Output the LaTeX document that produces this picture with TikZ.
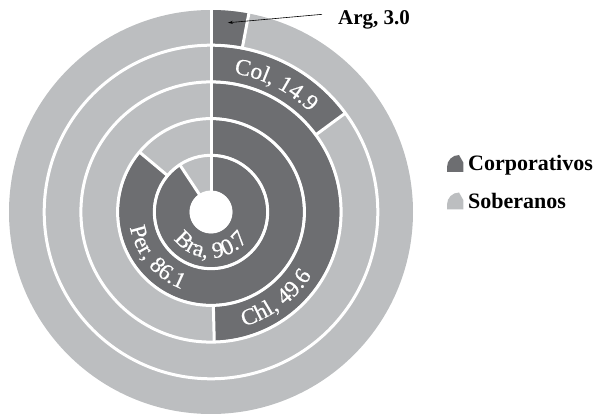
\documentclass[tikz,border=0pt]{standalone}
\usepackage{fontspec}
\setmainfont{Liberation Serif}
\newfontfamily\ringfont[FakeStretch=1.02,FakeBold=0.5]{Liberation Serif}
\usetikzlibrary{decorations.text,arrows.meta}
\definecolor{darkseg}{HTML}{6D6E71}
\definecolor{lightseg}{HTML}{BCBEC0}
\begin{document}
\begin{tikzpicture}[x=1pt,y=1pt,
  gapline/.style={draw=white,line width=3pt},
  ringlabel/.style={decorate,decoration={text along path,text align=center,text color=white,
     text={|\ringfont\fontsize{23}{26}\selectfont|#1}}},
  legtext/.style={anchor=base west,inner sep=0pt,font=\bfseries\fontsize{22}{26}\selectfont},
  pointer/.style={draw=black,line width=0.6pt,-{Stealth[length=5pt,width=3pt]}},
]
\useasboundingbox (0,0) rectangle (598,413);
\begin{scope}[shift={(211,201)}]
  \fill[lightseg] (0,0) circle[radius=202];
  \foreach \ri/\ro/\v in {21.5/55.2/90.7, 58.2/91.9/86.1, 94.9/128.6/49.6, 131.6/165.3/14.9, 168.3/202/3.0}{
    \pgfmathsetmacro\ea{90-3.6*\v}
    \pgfmathsetmacro\rin{\ri-1.6}
    \pgfmathsetmacro\rout{\ro+1.6}
    \fill[darkseg] (90:\ro) arc[start angle=90,end angle=\ea,radius=\ro]
       -- (\ea:\ri) arc[start angle=\ea,end angle=90,radius=\ri] -- cycle;
    \draw[gapline] (\ea:\rin) -- (\ea:\rout);
  }
  \foreach \r in {56.7,93.4,130.1,166.8}{
    \draw[gapline] (0,0) circle[radius=\r];
  }
  \draw[gapline] (90:20) -- (90:204);
  \fill[white] (0,0) circle[radius=21.5];
  \path[ringlabel={Col, 14.9}] (103:140.5) arc[start angle=103,end angle=23,radius=140.5];
  \path[ringlabel={Chl, 49.6}] (-103:119) arc[start angle=-103,end angle=-3,radius=119];
  \path[ringlabel={Per, 86.1}] (160:82.5) arc[start angle=160,end angle=280,radius=82.5];
  \path[ringlabel={Bra, 90.7}] (185:46) arc[start angle=185,end angle=355,radius=46];
  \coordinate (argtip) at (84.9:190);
\end{scope}
\node[anchor=base west,inner sep=0pt,font=\bfseries\fontsize{21}{25}\selectfont] (arg) at (338,388) {Arg, 3.0};
\draw[pointer] ([xshift=-16pt,yshift=6pt]arg.west) -- (argtip);
% legend
\fill[darkseg] (447,241) -- (447,246) arc[start angle=180,end angle=90,radius=12]
   -- (463.3,250.5) -- (463.3,241) -- cycle;
\fill[lightseg] (447,203.5) -- (447,208.5) arc[start angle=180,end angle=90,radius=12]
   -- (463.3,213) -- (463.3,203.5) -- cycle;
\node[legtext] (corp) at (468,242) {Corporativos};
\node[legtext] (sob) at (468,204.5) {Soberanos};
\end{tikzpicture}
\end{document}
